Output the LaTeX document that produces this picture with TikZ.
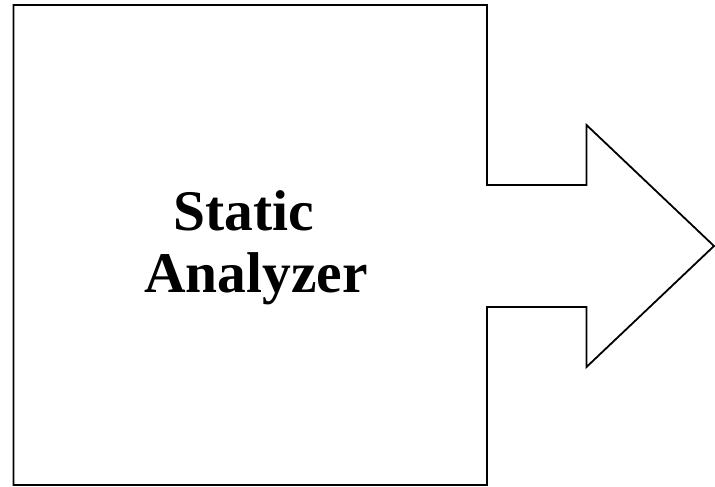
\documentclass[tikz,border=0pt]{standalone}
\usepackage{fontspec}
\setmainfont{Liberation Serif}
\begin{document}
\begin{tikzpicture}[x=1pt,y=-1pt,
  outline/.style={draw=black,line width=1.8pt,line join=miter},
  label/.style={font=\fontsize{57.5}{62}\selectfont\bfseries,anchor=base,inner sep=0pt}]
\useasboundingbox[fill=white] (0,0) rectangle (715,487);
\draw[outline] (13.5,5) -- (487,5) -- (487,185) -- (586.5,185) -- (586.5,125) -- (714,246)
  -- (586.5,367) -- (586.5,307) -- (487,307) -- (487,485) -- (13.5,485) -- cycle;
\node[label] (l1) at (244,230) {Static};
\node[label] (l2) at (256,292) {Analyzer};
\end{tikzpicture}
\end{document}
